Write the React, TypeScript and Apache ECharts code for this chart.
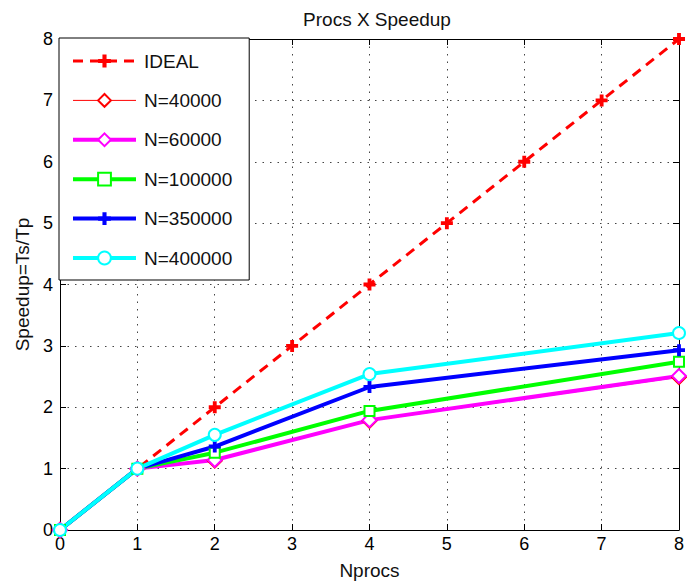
import React, { useEffect, useRef } from "react";
import * as echarts from "echarts";

const procs = [0, 1, 2, 4, 8];
const idealX = [0, 1, 2, 3, 4, 5, 6, 7, 8];
const idealY = [0, 1, 2, 3, 4, 5, 6, 7, 8];
const n40000 = [0, 1, 1.13, 1.78, 2.49];
const n60000 = [0, 1, 1.14, 1.79, 2.51];
const n100000 = [0, 1, 1.26, 1.94, 2.74];
const n350000 = [0, 1, 1.36, 2.33, 2.93];
const n400000 = [0, 1, 1.55, 2.54, 3.21];
const ticks = [0, 1, 2, 3, 4, 5, 6, 7, 8];
const legendNames = ["IDEAL", "N=40000", "N=60000", "N=100000", "N=350000", "N=400000"];
const legendWidths = [3, 1, 4, 4, 4, 4];

const PLUS =
  "path://M3.4,0 L6.6,0 L6.6,3.4 L10,3.4 L10,6.6 L6.6,6.6 L6.6,10 L3.4,10 L3.4,6.6 L0,6.6 L0,3.4 L3.4,3.4 Z";
const FONT = "Liberation Sans, Arial, sans-serif";

function pairs(xs: number[], ys: number[]) {
  return xs.map((x, i) => [x, ys[i]]);
}

export default function App() {
  const ref = useRef<HTMLDivElement>(null);
  useEffect(() => {
    const chart = echarts.init(ref.current!, undefined, { renderer: "svg" });
    const axisCommon = {
      type: "value" as const,
      min: 0,
      max: 8,
      interval: 1,
    };
    const line = (
      name: string,
      data: number[],
      color: string,
      symbol: string,
      width: number,
      size: number
    ) => ({
      name,
      type: "line",
      data: pairs(procs, data),
      symbol,
      symbolSize: size,
      showAllSymbol: true,
      clip: false,
      lineStyle: { color, width },
      itemStyle: { color, borderColor: color, borderWidth: width === 1 ? 1 : 3 },
      emphasis: { disabled: true },
      z: 3,
    });
    chart.setOption({
      animation: false,
      backgroundColor: "#ffffff",
      textStyle: { fontFamily: FONT },
      title: {
        text: "Procs X Speedup",
        left: 372,
        textAlign: "center",
        top: 5,
        textStyle: { fontSize: 19, fontWeight: "normal", color: "#111", fontFamily: FONT },
      },
      grid: { left: 60, right: 3, top: 39, bottom: 55, show: false },
      legend: {
        orient: "vertical",
        left: 59,
        top: 38,
        padding: [13, 17, 12, 12],
        itemWidth: 63,
        itemHeight: 16,
        itemGap: 19.4,
        backgroundColor: "#fff",
        borderColor: "#000",
        borderWidth: 1,
        z: 10,
        textStyle: { fontSize: 19, lineHeight: 20, color: "#111", fontFamily: FONT, padding: [0, 0, 0, 3] },
        data: legendNames.map((n, i) => ({ name: n, lineStyle: { width: legendWidths[i] } })),
      },
      xAxis: [
        {
          ...axisCommon,
          name: "Nprocs",
          nameLocation: "middle",
          nameGap: 31,
          nameTextStyle: { fontSize: 19, color: "#111", fontFamily: FONT },
          axisLine: { show: true, onZero: false, lineStyle: { color: "#000", width: 1 } },
          axisTick: { show: true, inside: true, length: 6, lineStyle: { color: "#000" } },
          axisLabel: { fontSize: 18, color: "#000", margin: 5, fontFamily: FONT },
          splitLine: { show: true, lineStyle: { color: "#444", type: [1.5, 6], width: 1 } },
        },
        {
          ...axisCommon,
          position: "top",
          axisLine: { show: true, onZero: false, lineStyle: { color: "#000", width: 1 } },
          axisTick: { show: true, inside: true, length: 6, lineStyle: { color: "#000" } },
          axisLabel: { show: false },
          splitLine: { show: false },
        },
      ],
      yAxis: [
        {
          ...axisCommon,
          name: "Speedup=Ts/Tp",
          nameLocation: "middle",
          nameGap: 27,
          nameTextStyle: { fontSize: 19, color: "#111", fontFamily: FONT },
          axisLine: { show: true, onZero: false, lineStyle: { color: "#000", width: 1 } },
          axisTick: { show: true, inside: true, length: 6, lineStyle: { color: "#000" } },
          axisLabel: { fontSize: 18, color: "#000", margin: 7, fontFamily: FONT, formatter: (v: number) => String(ticks[v] ?? v) },
          splitLine: { show: true, lineStyle: { color: "#444", type: [1.5, 6], width: 1 } },
        },
        {
          ...axisCommon,
          position: "right",
          axisLine: { show: true, onZero: false, lineStyle: { color: "#000", width: 1 } },
          axisTick: { show: true, inside: true, length: 6, lineStyle: { color: "#000" } },
          axisLabel: { show: false },
          splitLine: { show: false },
        },
      ],
      series: [
        {
          name: "IDEAL",
          type: "line",
          data: pairs(idealX, idealY),
          symbol: PLUS,
          symbolSize: 12,
          clip: false,
          lineStyle: { color: "#ff0000", width: 3, type: [10, 7] },
          itemStyle: { color: "#ff0000" },
          emphasis: { disabled: true },
          z: 3,
        },
        line("N=40000", n40000, "#ff0000", "emptyDiamond", 1, 14),
        line("N=60000", n60000, "#ff00ff", "emptyDiamond", 4, 14),
        line("N=100000", n100000, "#00ff00", "emptyRect", 4, 10),
        {
          ...line("N=350000", n350000, "#0000ff", PLUS, 4, 12),
          itemStyle: { color: "#0000ff" },
        },
        line("N=400000", n400000, "#00ffff", "emptyCircle", 4, 12),
      ],
    });
    return () => chart.dispose();
  }, []);
  return <div ref={ref} style={{ width: 687, height: 585, position: "absolute", left: 0, top: 0 }} />;
}
